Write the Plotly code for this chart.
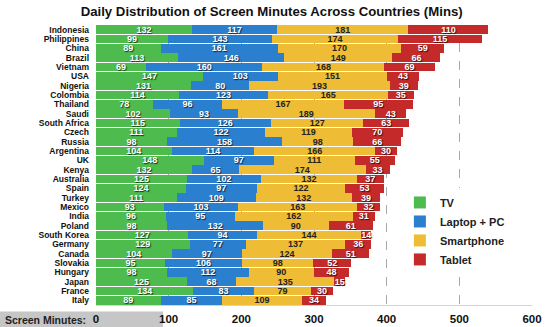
import plotly.graph_objects as go

countries = ["Indonesia", "Philippines", "China", "Brazil", "Vietnam", "USA", "Nigeria",
             "Colombia", "Thailand", "Saudi", "South Africa", "Czech", "Russia", "Argentina",
             "UK", "Kenya", "Australia", "Spain", "Turkey", "Mexico", "India", "Poland",
             "South Korea", "Germany", "Canada", "Slovakia", "Hungary", "Japan", "France", "Italy"]

tv = [132, 99, 89, 113, 69, 147, 131, 114, 78, 102, 115, 111, 98, 104, 148, 132, 125, 124,
      111, 93, 96, 98, 127, 129, 104, 95, 98, 125, 134, 89]
laptop_pc = [117, 143, 161, 146, 160, 103, 80, 123, 96, 93, 126, 122, 158, 114, 97, 65, 102, 97,
             109, 103, 95, 132, 94, 77, 97, 106, 112, 68, 83, 85]
smartphone = [181, 174, 170, 149, 168, 151, 193, 165, 167, 189, 127, 119, 98, 166, 111, 174, 132,
              122, 132, 163, 162, 90, 144, 137, 124, 98, 90, 135, 79, 109]
tablet = [110, 115, 59, 66, 69, 43, 39, 35, 95, 43, 63, 70, 66, 30, 55, 33, 37, 53, 39, 32, 31,
          61, 14, 36, 51, 52, 48, 15, 30, 34]

x_ticks = [0, 100, 200, 300, 400, 500, 600]

series = [
    ("TV", tv, "#4dbb4d", "white"),
    ("Laptop + PC", laptop_pc, "#2b7fcf", "white"),
    ("Smartphone", smartphone, "#eebd35", "#222222"),
    ("Tablet", tablet, "#c42a2a", "white"),
]

FONT = "Liberation Sans, Arial, sans-serif"

fig = go.Figure()
for name, vals, color, txtcol in series:
    shadow = "1px 1px 1px rgba(0,0,0,0.7)" if txtcol == "white" else "none"
    fig.add_trace(go.Bar(
        name=name,
        y=countries,
        x=vals,
        orientation="h",
        marker=dict(color=color, line=dict(width=0)),
        text=[str(v) for v in vals],
        textposition="inside",
        insidetextanchor="middle",
        textangle=0,
        textfont=dict(family=FONT, size=9, color=txtcol, weight="bold", shadow=shadow),
        hoverinfo="x+y+name",
    ))

fig.update_layout(
    width=550, height=327,
    margin=dict(l=96, r=18, t=25, b=22),
    barmode="stack",
    bargap=0.1,
    plot_bgcolor="white",
    paper_bgcolor="white",
    uniformtext=dict(minsize=9, mode="show"),
    title=dict(
        text="Daily Distribution of Screen Minutes Across Countries (Mins)",
        x=0.494, xref="container", xanchor="center",
        y=1 - 11 / 327, yref="container", yanchor="middle",
        font=dict(family=FONT, size=13.2, color="#111111", weight="bold"),
    ),
    legend=dict(
        x=0.697, y=0.418, xanchor="left", yanchor="top",
        traceorder="normal",
        bgcolor="white",
        font=dict(family=FONT, size=11, color="#222222", weight="bold"),
        itemwidth=30,
        tracegroupgap=0,
    ),
    showlegend=True,
)

fig.update_xaxes(
    range=[0, 600],
    tickvals=x_ticks,
    ticktext=[str(t) for t in x_ticks],
    tickfont=dict(family=FONT, size=11.5, color="#111111", weight="bold"),
    showgrid=True,
    gridcolor="#a8a8a8",
    griddash="dash",
    gridwidth=1,
    zeroline=False,
    showline=True,
    linecolor="#d4d4d4",
    ticks="",
    ticklabelstandoff=3,
    automargin=False,
)

fig.update_yaxes(
    categoryorder="array",
    categoryarray=countries,
    tickmode="array",
    tickvals=countries,
    ticktext=countries,
    autorange="reversed",
    tickfont=dict(family=FONT, size=8.5, color="#111111", weight="bold"),
    showgrid=False,
    ticks="",
    ticklabelstandoff=6,
    automargin=False,
)

# Gray caption strip in the lower-left corner with the axis caption
fig.add_shape(type="rect", xref="paper", yref="paper",
              x0=-96 / 436, x1=(163 - 96) / 436,
              y0=-(327 - 304.5) / 279.5, y1=-(311 - 304.5) / 279.5,
              fillcolor="#c6c6c6", line=dict(width=0), layer="below")
fig.add_annotation(
    text="Screen Minutes:", xref="paper", yref="paper",
    x=-93 / 436, y=-(319 - 304.5) / 279.5, xanchor="left", yanchor="middle",
    showarrow=False,
    font=dict(family=FONT, size=10.5, color="#222222", weight="bold"),
)

fig.write_html("out.html")
